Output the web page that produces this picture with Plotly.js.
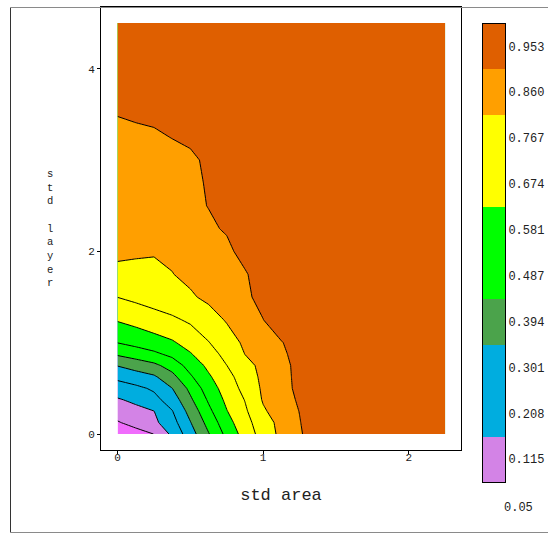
<!DOCTYPE html>
<html>
<head>
<meta charset="utf-8">
<script src="https://cdn.plot.ly/plotly-3.0.1.min.js"></script>
<style>
  html, body { margin: 0; padding: 0; background: #ffffff; }
  #chart { width: 548px; height: 534px; }
</style>
</head>
<body>
<div id="chart"></div>
<script>
// Grid of the response surface: std area (columns) by std layer (rows)
const stdArea = [0, 0.125, 0.25, 0.375, 0.5, 0.625, 0.75, 0.875, 1.0, 1.125, 1.25, 1.375, 2.25];
const stdLayer = [0, 0.125, 0.25, 0.375, 0.5, 0.625, 0.75, 0.875, 1.0, 1.25, 1.5, 1.75,
                  2.0, 2.25, 2.5, 2.75, 3.0, 3.25, 3.5, 4.5];

// Surface values, one row per std layer value
const surface = [
  [0.050, 0.083, 0.116, 0.228, 0.353, 0.482, 0.606, 0.712, 0.807, 0.882, 0.943, 1.004, 1.0],
  [0.108, 0.144, 0.188, 0.266, 0.390, 0.520, 0.638, 0.735, 0.818, 0.888, 0.949, 1.009, 1.0],
  [0.154, 0.181, 0.207, 0.297, 0.428, 0.558, 0.670, 0.753, 0.848, 0.904, 0.955, 1.005, 1.0],
  [0.199, 0.228, 0.274, 0.344, 0.472, 0.593, 0.694, 0.770, 0.868, 0.916, 0.964, 1.012, 1.0],
  [0.257, 0.281, 0.314, 0.393, 0.511, 0.627, 0.715, 0.794, 0.874, 0.923, 0.973, 1.020, 1.0],
  [0.322, 0.351, 0.380, 0.459, 0.568, 0.661, 0.736, 0.813, 0.879, 0.927, 0.974, 1.020, 1.0],
  [0.398, 0.432, 0.466, 0.526, 0.617, 0.694, 0.766, 0.830, 0.884, 0.930, 0.975, 1.020, 1.0],
  [0.500, 0.531, 0.561, 0.604, 0.667, 0.730, 0.794, 0.861, 0.900, 0.940, 0.979, 1.020, 1.0],
  [0.582, 0.608, 0.636, 0.663, 0.708, 0.763, 0.822, 0.874, 0.912, 0.949, 0.987, 1.020, 1.0],
  [0.681, 0.704, 0.728, 0.751, 0.781, 0.824, 0.867, 0.910, 0.952, 0.996, 1.020, 1.020, 1.0],
  [0.768, 0.788, 0.809, 0.829, 0.850, 0.877, 0.909, 0.941, 0.972, 1.000, 1.000, 1.000, 1.0],
  [0.827, 0.837, 0.847, 0.858, 0.878, 0.892, 0.926, 0.949, 0.973, 1.000, 1.000, 1.000, 1.0],
  [0.886, 0.871, 0.864, 0.873, 0.897, 0.920, 0.944, 0.967, 1.000, 1.000, 1.000, 1.000, 1.0],
  [0.897, 0.907, 0.917, 0.927, 0.937, 0.947, 0.957, 1.000, 1.000, 1.000, 1.000, 1.000, 1.0],
  [0.909, 0.918, 0.927, 0.936, 0.945, 0.954, 1.000, 1.000, 1.000, 1.000, 1.000, 1.000, 1.0],
  [0.920, 0.927, 0.934, 0.941, 0.948, 0.955, 1.000, 1.000, 1.000, 1.000, 1.000, 1.000, 1.0],
  [0.931, 0.936, 0.941, 0.946, 0.951, 0.955, 1.000, 1.000, 1.000, 1.000, 1.000, 1.000, 1.0],
  [0.943, 0.946, 0.950, 0.9535, 0.955, 0.960, 1.000, 1.000, 1.000, 1.000, 1.000, 1.000, 1.0],
  [0.954, 0.957, 0.957, 0.965, 1.000, 1.000, 1.000, 1.000, 1.000, 1.000, 1.000, 1.000, 1.0],
  [1.000, 1.000, 1.000, 1.000, 1.000, 1.000, 1.000, 1.000, 1.000, 1.000, 1.000, 1.000, 1.0]
];

// Contour levels (also the colour key labels) and the minimum value
const levelLabels = [0.115, 0.208, 0.301, 0.394, 0.487, 0.581, 0.674, 0.767, 0.860, 0.953];
const minLabel = 0.05;

// Fill colours: below the first level, then one per band upward
const bandColors = ['#f06cfc', '#d383e6', '#00addf', '#00addf', '#4ba34b', '#00ff00',
                    '#00ff00', '#ffff00', '#ffff00', '#ff9f00', '#df5f00'];

const xTicks = [0, 1, 2];
const yTicks = [0, 2, 4];
const xTitle = 'std area';
const yTitle = 'std layer';

const FONT = 'Liberation Mono, DejaVu Sans Mono, monospace';
const INK = '#222222';

// Figure geometry (pixels)
const W = 548, H = 534;
const M = { l: 101, r: 42, t: 7, b: 52 };
const PW = W - M.l - M.r, PH = H - M.t - M.b;
const px2x = p => (p - M.l) / PW;
const px2y = p => (H - M.b - p) / PH;

const levelStep = (levelLabels[levelLabels.length - 1] - levelLabels[0]) / (levelLabels.length - 1);

const contourTrace = {
  type: 'contour',
  x: stdArea,
  y: stdLayer,
  z: surface,
  autocontour: false,
  contours: {
    start: levelLabels[0],
    end: levelLabels[levelLabels.length - 1] + 1e-6,
    size: levelStep,
    coloring: 'fill',
    showlines: true
  },
  colorscale: bandColors.map((c, i) => [i / (bandColors.length - 1), c]),
  line: { color: '#000000', width: 1, smoothing: 0 },
  showscale: false,
  hoverinfo: 'skip',
  xaxis: 'x',
  yaxis: 'y'
};

// Colour key drawn as a one-column heatmap on its own axes
const keyColors = bandColors.slice(1);
const keyTrace = {
  type: 'heatmap',
  x: [0],
  y: levelLabels,
  z: levelLabels.map((v, i) => [i]),
  zmin: 0,
  zmax: keyColors.length - 1,
  colorscale: keyColors.map((c, i) => [i / (keyColors.length - 1), c]),
  showscale: false,
  hoverinfo: 'skip',
  xaxis: 'x2',
  yaxis: 'y2'
};

// Layer-axis title, one upright letter per line
const stackedTitle = Array.from(yTitle).map(ch => (ch.trim() === '' ? '\u00a0' : ch)).join('<br>');

const layout = {
  width: W,
  height: H,
  margin: { l: M.l, r: M.r, t: M.t, b: M.b, pad: 0 },
  paper_bgcolor: '#ffffff',
  plot_bgcolor: '#ffffff',
  showlegend: false,
  font: { family: FONT, color: INK },
  xaxis: {
    domain: [0, px2x(461)],
    range: [-0.114, 2.359],
    tickvals: xTicks,
    ticktext: xTicks.map(String),
    ticks: 'outside', ticklen: 3, tickcolor: '#000000', tickwidth: 1,
    ticklabelstandoff: -6,
    showline: true, mirror: true, linecolor: '#000000', linewidth: 1,
    showgrid: false, zeroline: false,
    tickfont: { family: FONT, size: 11, color: INK },
    title: { text: xTitle, font: { family: FONT, size: 17, color: INK }, standoff: 24 },
    anchor: 'y'
  },
  yaxis: {
    domain: [px2y(450), 1],
    range: [-0.175, 4.676],
    tickvals: yTicks,
    ticktext: yTicks.map(String),
    ticks: 'outside', ticklen: 3, tickcolor: '#000000', tickwidth: 1,
    showline: true, mirror: true, linecolor: '#000000', linewidth: 1,
    showgrid: false, zeroline: false,
    tickfont: { family: FONT, size: 11, color: INK },
    anchor: 'x'
  },
  xaxis2: {
    domain: [px2x(483), px2x(505)],
    range: [-0.5, 0.5],
    showticklabels: false, ticks: '',
    showline: true, mirror: true, linecolor: '#000000', linewidth: 1,
    showgrid: false, zeroline: false,
    anchor: 'y2'
  },
  yaxis2: {
    domain: [0, px2y(23.5)],
    side: 'right',
    tickvals: levelLabels,
    ticktext: levelLabels.map(v => v.toFixed(3)),
    ticks: '',
    showline: true, mirror: true, linecolor: '#000000', linewidth: 1,
    showgrid: false, zeroline: false,
    tickfont: { family: FONT, size: 12, color: INK },
    anchor: 'x2'
  },
  annotations: [
    {
      xref: 'paper', yref: 'paper',
      x: px2x(50), y: px2y(228),
      xanchor: 'center', yanchor: 'middle', align: 'center',
      text: stackedTitle, showarrow: false,
      font: { family: FONT, size: 10.5, color: INK }
    },
    {
      xref: 'paper', yref: 'paper',
      x: px2x(518), y: px2y(508),
      xanchor: 'center', yanchor: 'middle',
      text: String(minLabel), showarrow: false,
      font: { family: FONT, size: 12, color: INK }
    }
  ],
  shapes: [
    // outer panel border
    { type: 'line', xref: 'paper', yref: 'paper', x0: px2x(10.5), x1: px2x(10.5), y0: px2y(7.5), y1: px2y(532.5),
      line: { color: '#333333', width: 1 } },
    { type: 'line', xref: 'paper', yref: 'paper', x0: px2x(10.5), x1: px2x(560), y0: px2y(7.5), y1: px2y(7.5),
      line: { color: '#8a8a8a', width: 1 } },
    { type: 'line', xref: 'paper', yref: 'paper', x0: px2x(10.5), x1: px2x(560), y0: px2y(532.5), y1: px2y(532.5),
      line: { color: '#8a8a8a', width: 1 } }
  ]
};

Plotly.newPlot('chart', [contourTrace, keyTrace], layout, { staticPlot: true, displayModeBar: false });
</script>
</body>
</html>
